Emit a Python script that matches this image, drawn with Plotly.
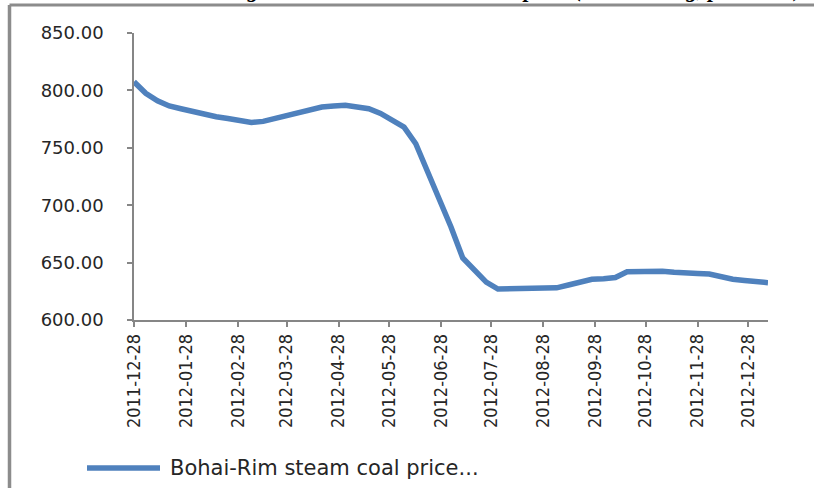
import plotly.graph_objects as go
import pandas as pd

# ---- data (weekly Bohai-Rim steam coal price index) ----
start_date = "2011-12-28"
n_weeks = 55
prices = [807.5, 797.5, 791, 786.5, 784, 781.5, 779, 777, 775.5, 773.5,
          772, 773, 775.5, 777, 779.5, 782, 785.5, 786.5, 787, 785.5,
          784, 780, 773.5, 768, 753.5, 730, 705, 681, 654, 643,
          633, 627, 627, 627, 627, 627, 628, 630.5, 633, 635.5,
          636, 637, 642, 642, 643, 642.5, 641.5, 641.5, 640.5, 640,
          637.5, 635.5, 634.5, 633.5, 632.5]
tick_dates = ["2011-12-28", "2012-01-28", "2012-02-28", "2012-03-28",
              "2012-04-28", "2012-05-28", "2012-06-28", "2012-07-28",
              "2012-08-28", "2012-09-28", "2012-10-28", "2012-11-28",
              "2012-12-28"]
series_name = "Bohai-Rim steam coal price..."
title_text = "Figure 1. Bohai-Rim steam coal price (5500 kcal/kg, per tonne)"

dates = pd.date_range(start_date, periods=n_weeks, freq="7D")

W, H = 814, 488
L, R, T, B = 134, 46, 33, 168
PW, PH = W - L - R, H - T - B


def px(x):
    return (x - L) / PW


def py(y):
    return (H - B - y) / PH


BLUE = "#4F81BD"
GRAY = "#868686"

fig = go.Figure()
fig.add_trace(go.Scatter(x=dates, y=prices, mode="lines", name=series_name,
                         line=dict(color=BLUE, width=5.5), showlegend=False))

fig.update_layout(
    width=W, height=H,
    margin=dict(l=L, r=R, t=T, b=B, autoexpand=False),
    paper_bgcolor="white", plot_bgcolor="white",
    xaxis=dict(
        type="date",
        range=[dates[0], dates[-1]],
        tickvals=tick_dates, ticktext=tick_dates,
        tickangle=-90,
        tickfont=dict(family="Liberation Sans Narrow, DejaVu Sans Condensed, Arial", size=18, color="#262626"),
        showline=True, linecolor=GRAY, linewidth=1.5,
        ticks="outside", ticklen=5, tickcolor=GRAY, tickwidth=1.5,
        showgrid=False, zeroline=False,
    ),
    yaxis=dict(
        range=[600, 850], dtick=50, tick0=600, tickformat=".2f",
        tickfont=dict(family="DejaVu Sans", size=18, color="#262626"),
        showline=True, linecolor=GRAY, linewidth=1.5,
        ticks="outside", ticklen=5, tickcolor=GRAY, tickwidth=1.5,
        ticklabelstandoff=20,
        showgrid=False, zeroline=False,
    ),
)

# frame of the chart area (left and top border)
fig.add_shape(type="line", xref="paper", yref="paper",
              x0=px(9.5), x1=px(830), y0=py(5), y1=py(5),
              line=dict(color="#8c8c8c", width=3))
fig.add_shape(type="line", xref="paper", yref="paper",
              x0=px(9.5), x1=px(9.5), y0=py(5), y1=py(500),
              line=dict(color="#8c8c8c", width=3.5))

# clipped title above the frame (only its descenders show, as in the source)
fig.add_annotation(text=title_text, xref="paper", yref="paper",
                   x=px(804), y=py(3.5), xanchor="right", yanchor="bottom",
                   showarrow=False,
                   font=dict(family="Liberation Serif", size=22, color="black",
                             weight="bold", style="italic"))

# legend (manual, Excel style long sample)
fig.add_shape(type="line", xref="paper", yref="paper",
              x0=px(87), x1=px(160), y0=py(468), y1=py(468),
              line=dict(color=BLUE, width=5.5))
fig.add_annotation(text=series_name, xref="paper", yref="paper",
                   x=px(168), y=py(468), xanchor="left", yanchor="middle",
                   showarrow=False,
                   font=dict(family="DejaVu Sans", size=21, color="#262626"))

fig.write_html("out.html", config={"displayModeBar": False},
               post_script="document.body.style.margin='0';document.body.style.overflow='hidden';")
